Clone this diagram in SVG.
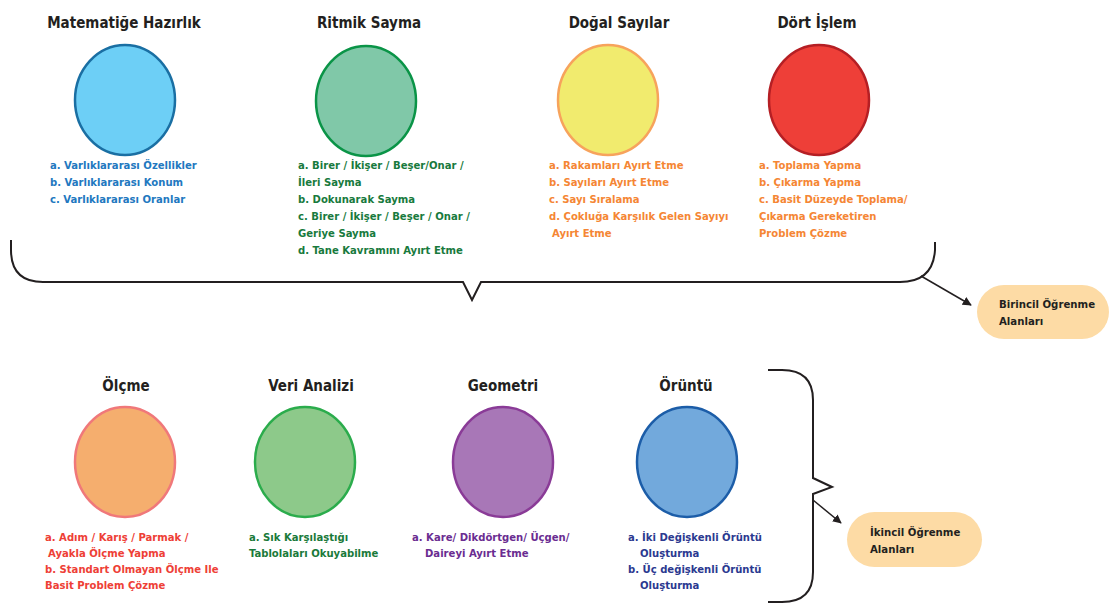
<svg xmlns="http://www.w3.org/2000/svg" width="1109" height="615" viewBox="0 0 1109 615">
<style>
.t{font-family:"Liberation Sans Narrow","DejaVu Sans Condensed","Liberation Sans",sans-serif;font-weight:bold;font-stretch:condensed}
.title{font-size:15px;fill:#231f20;text-anchor:middle}
.item{font-size:11.2px}
.box{font-size:11.3px;fill:#231f20}
.brace{fill:none;stroke:#231f20;stroke-width:2}
.arr{stroke:#231f20;stroke-width:1.5;fill:none}
</style>
<defs>
<marker id="ah" viewBox="0 0 10 10" refX="9" refY="5" markerWidth="9" markerHeight="9" markerUnits="userSpaceOnUse" orient="auto">
<path d="M0,0 L10,5 L0,10 z" fill="#231f20"/>
</marker>
</defs>
<rect width="1109" height="615" fill="#ffffff"/>

<g id="matematige">
<text class="t title" x="124" y="28">Matematiğe Hazırlık</text>
<ellipse cx="125" cy="100" rx="50" ry="55" fill="#6dcff6" stroke="#1a6fa3" stroke-width="2.5"/>
<text class="t item" fill="#2278c0"><tspan x="50" y="169">a. Varlıklararası Özellikler</tspan><tspan x="50" y="186">b. Varlıklararası Konum</tspan><tspan x="50" y="203">c. Varlıklararası Oranlar</tspan></text>
</g>

<g id="ritmik">
<text class="t title" x="369" y="28">Ritmik Sayma</text>
<ellipse cx="366" cy="101" rx="50" ry="55" fill="#80c8a8" stroke="#0a9447" stroke-width="2.5"/>
<text class="t item" fill="#187a3d"><tspan x="298" y="169">a. Birer / İkişer / Beşer/Onar /</tspan><tspan x="298" y="186">İleri Sayma</tspan><tspan x="298" y="203">b. Dokunarak Sayma</tspan><tspan x="298" y="220">c. Birer / İkişer / Beşer / Onar /</tspan><tspan x="298" y="237">Geriye Sayma</tspan><tspan x="298" y="254">d. Tane Kavramını Ayırt Etme</tspan></text>
</g>

<g id="dogal">
<text class="t title" x="619" y="28">Doğal Sayılar</text>
<ellipse cx="608" cy="100" rx="50" ry="55" fill="#f1eb6e" stroke="#f7a35c" stroke-width="2.5"/>
<text class="t item" fill="#f58634"><tspan x="549" y="169">a. Rakamları Ayırt Etme</tspan><tspan x="549" y="186">b. Sayıları Ayırt Etme</tspan><tspan x="549" y="203">c. Sayı Sıralama</tspan><tspan x="549" y="220">d. Çokluğa Karşılık Gelen Sayıyı</tspan><tspan x="552" y="237">Ayırt Etme</tspan></text>
</g>

<g id="dort">
<text class="t title" x="817" y="28">Dört İşlem</text>
<ellipse cx="819" cy="100" rx="50" ry="55" fill="#ee3f38" stroke="#b51f24" stroke-width="2.5"/>
<text class="t item" fill="#f58634"><tspan x="759" y="169">a. Toplama Yapma</tspan><tspan x="759" y="186">b. Çıkarma Yapma</tspan><tspan x="759" y="203">c. Basit Düzeyde Toplama/</tspan><tspan x="759" y="220">Çıkarma Gereketiren</tspan><tspan x="759" y="237">Problem Çözme</tspan></text>
</g>

<g id="birincil">
<rect x="977" y="285" width="132" height="54" rx="27" fill="#fddba5"/>
<text class="t box"><tspan x="999" y="308">Birincil Öğrenme</tspan><tspan x="999" y="325">Alanları</tspan></text>
</g>

<g id="olcme">
<text class="t title" x="126" y="391">Ölçme</text>
<ellipse cx="125" cy="462" rx="50" ry="55" fill="#f5ae6e" stroke="#f0787a" stroke-width="2.5"/>
<text class="t item" fill="#ee4036"><tspan x="45" y="541">a. Adım / Karış / Parmak /</tspan><tspan x="48" y="557">Ayakla Ölçme Yapma</tspan><tspan x="45" y="573">b. Standart Olmayan Ölçme Ile</tspan><tspan x="45" y="589">Basit Problem Çözme</tspan></text>
</g>

<g id="veri">
<text class="t title" x="311" y="391">Veri Analizi</text>
<ellipse cx="305" cy="462" rx="50" ry="55" fill="#8dc98a" stroke="#2bac4c" stroke-width="2.5"/>
<text class="t item" fill="#1a7a3a"><tspan x="249" y="541">a. Sık Karşılaştığı</tspan><tspan x="249" y="557">Tablolaları Okuyabilme</tspan></text>
</g>

<g id="geometri">
<text class="t title" x="503" y="391">Geometri</text>
<ellipse cx="503" cy="462" rx="50" ry="55" fill="#a877b7" stroke="#8a3b97" stroke-width="2.5"/>
<text class="t item" fill="#6a2c91"><tspan x="412" y="541">a. Kare/ Dikdörtgen/ Üçgen/</tspan><tspan x="425" y="557">Daireyi Ayırt Etme</tspan></text>
</g>

<g id="oruntu">
<text class="t title" x="686" y="391">Örüntü</text>
<ellipse cx="687" cy="462" rx="50" ry="55" fill="#72a9dc" stroke="#1c5da8" stroke-width="2.5"/>
<text class="t item" fill="#2b3990"><tspan x="628" y="541">a. İki Değişkenli Örüntü</tspan><tspan x="640" y="557">Oluşturma</tspan><tspan x="628" y="573">b. Üç değişkenli Örüntü</tspan><tspan x="640" y="589">Oluşturma</tspan></text>
</g>

<g id="ikincil">
<rect x="847" y="512" width="135" height="55" rx="27.5" fill="#fddba5"/>
<text class="t box"><tspan x="870" y="536">İkincil Öğrenme</tspan><tspan x="870" y="553">Alanları</tspan></text>
</g>

<g id="connectors">
<path class="brace" d="M11 240 L11 250 Q11 282 43 282 L463 282 L472 300 L481 282 L900 282 Q933 282 935 250 L935 242"/>
<path class="brace" d="M768 370 L782 370 Q813 370 813 400 L813 478 L832 487 L813 494 L813 572 Q813 602 782 602 L768 602"/>
<line class="arr" x1="921" y1="276" x2="971" y2="305" marker-end="url(#ah)"/>
<line class="arr" x1="813" y1="500" x2="841" y2="523" marker-end="url(#ah)"/>
</g>
</svg>
